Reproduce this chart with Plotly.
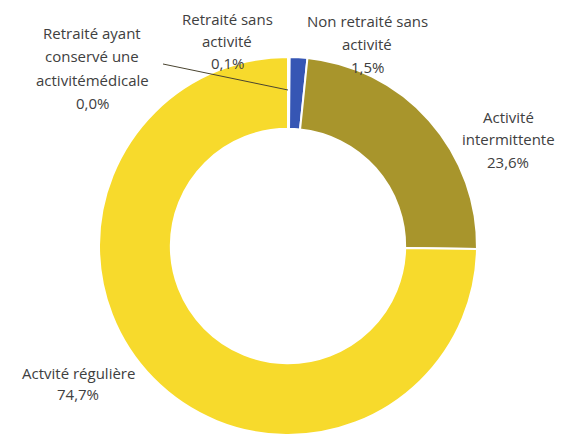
import plotly.graph_objects as go

# ---- data ----
categories = [
    "Retraité ayant<br>conservé une<br>activitémédicale",
    "Retraité sans<br>activité",
    "Non retraité sans<br>activité",
    "Activité<br>intermittente",
    "Actvité régulière",
]
values = [0.04, 0.1, 1.5, 23.6, 74.7]
pct_labels = ["0,0%", "0,1%", "1,5%", "23,6%", "74,7%"]

# ---- style / layout ----
OFF = 8                      # default page body margin
W, H = 573 - OFF, 436 - OFF
colors = ["#A5A5A5", "#ED7D31", "#3656B4", "#A8952C", "#F7DA2C"]
# label block: center x (px), first-line y (px), line step (px)
label_pos = [(92, 33, 23.3), (227, 19, 22.0), (367, 21, 23.0), (508, 117, 22.5), (78, 373, 20.5)]

cx, cy, R = 288, 246, 189


def px(x):
    return (x - OFF) / W


def py(y):
    return 1 - (y - OFF) / H


fig = go.Figure(go.Pie(
    labels=[c.replace("<br>", " ") for c in categories],
    values=values,
    sort=False,
    direction="clockwise",
    rotation=0,
    hole=0.62,
    marker=dict(colors=colors, line=dict(color="white", width=2)),
    textinfo="none",
    hoverinfo="label+percent",
    showlegend=False,
    domain=dict(x=[px(cx - R), px(cx + R)], y=[py(cy + R), py(cy - R)]),
))

annotations = []
for cat, pct, (x, y0, step) in zip(categories, pct_labels, label_pos):
    lines = cat.split("<br>") + [pct]
    for i, ln in enumerate(lines):
        annotations.append(dict(
            text=ln, x=px(x), y=py(y0 + i * step), xref="paper", yref="paper",
            xanchor="center", yanchor="middle", showarrow=False,
            font=dict(family="Open Sans", size=15, color="#404040"),
        ))

fig.add_shape(type="line", xref="paper", yref="paper",
              x0=px(163), y0=py(64), x1=px(288), y1=py(90),
              line=dict(color="#4a4430", width=1))

fig.update_layout(
    width=W, height=H,
    margin=dict(l=0, r=0, t=0, b=0),
    paper_bgcolor="white", plot_bgcolor="white",
    annotations=annotations,
)

fig.write_html("out.html", config={"displayModeBar": False})
